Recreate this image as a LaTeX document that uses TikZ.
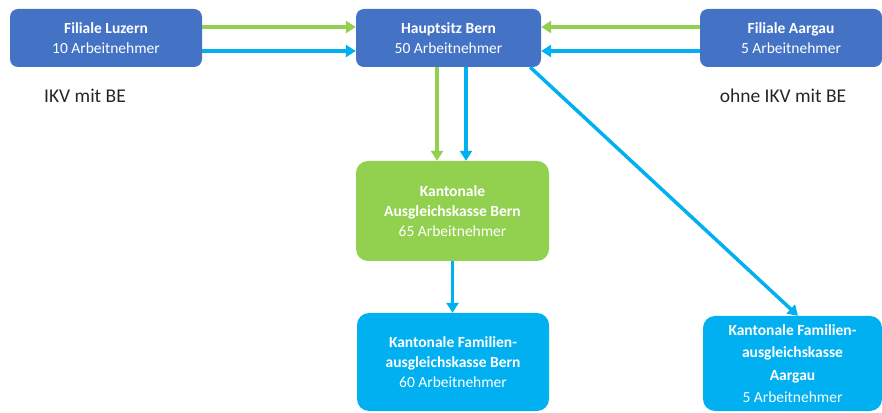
\documentclass[tikz,border=0pt]{standalone}
\usepackage{fontspec}
\setmainfont{Carlito}
\usetikzlibrary{arrows.meta}
\definecolor{OfficeBlue}{HTML}{4472C4}
\definecolor{LeafGreen}{HTML}{92D050}
\definecolor{SkyBlue}{HTML}{00B0F0}
\definecolor{LabelText}{HTML}{262626}
\begin{document}
\begin{tikzpicture}[x=1pt,y=1pt,>={Triangle[width=12pt,length=10pt]},
  box/.style={rounded corners=8pt,text=white,align=center,font=\fontsize{15.5}{20}\selectfont,inner sep=0pt},
  flow/.style={line width=3.5pt,->},lbl/.style={text=LabelText,font=\fontsize{19.5}{22}\selectfont}]
\useasboundingbox (0,0) rectangle (882,412);
\node[box,fill=OfficeBlue,minimum width=192pt,minimum height=58pt] (L) at (106,374){\textbf{Filiale Luzern}\\10 Arbeitnehmer};
\node[box,fill=OfficeBlue,minimum width=185pt,minimum height=58pt] (H) at (448.5,374){\textbf{Hauptsitz Bern}\\50 Arbeitnehmer};
\node[box,fill=OfficeBlue,minimum width=182pt,minimum height=58pt] (A) at (791,374){\textbf{Filiale Aargau}\\5 Arbeitnehmer};
\node[lbl] (lblL) at (85,316){IKV mit BE}; \node[lbl] (lblA) at (783,316){ohne IKV mit BE};
\node[box,fill=LeafGreen,rounded corners=12pt,minimum width=193pt,minimum height=100pt] (K) at (452.5,201){\textbf{Kantonale}\\\textbf{Ausgleichskasse Bern}\\65 Arbeitnehmer};
\node[box,fill=SkyBlue,rounded corners=12pt,minimum width=192pt,minimum height=98pt] (FB) at (453,50){\textbf{Kantonale Familien-}\\\textbf{ausgleichskasse Bern}\\60 Arbeitnehmer};
\node[box,fill=SkyBlue,rounded corners=12pt,minimum width=179pt,minimum height=95pt,font=\fontsize{15.5}{22.5}\selectfont] (FA) at (792.5,48.5){\textbf{Kantonale Familien-}\\\textbf{ausgleichskasse}\\\textbf{Aargau}\\5 Arbeitnehmer};
% Filialen zum Hauptsitz
\draw[flow,LeafGreen] ([yshift=11pt]L.east)--([yshift=11pt]H.west); \draw[flow,SkyBlue] ([yshift=-13pt]L.east)--([yshift=-13pt]H.west);
\draw[flow,LeafGreen] ([yshift=11pt]A.west)--([yshift=11pt]H.east); \draw[flow,SkyBlue] ([yshift=-13pt]A.west)--([yshift=-13pt]H.east);
% Hauptsitz zu den Kassen
\draw[flow,LeafGreen] ([xshift=-11.5pt]H.south)--([xshift=-11.5pt]H.south |- K.north); \draw[flow,SkyBlue] ([xshift=17.5pt]H.south)--([xshift=17.5pt]H.south |- K.north);
\draw[flow,SkyBlue] (K.south)--(K.south |- FB.north);
\draw[flow,SkyBlue] ([xshift=-11pt]H.south east)--([xshift=5.5pt]FA.north);
\end{tikzpicture}
\end{document}
